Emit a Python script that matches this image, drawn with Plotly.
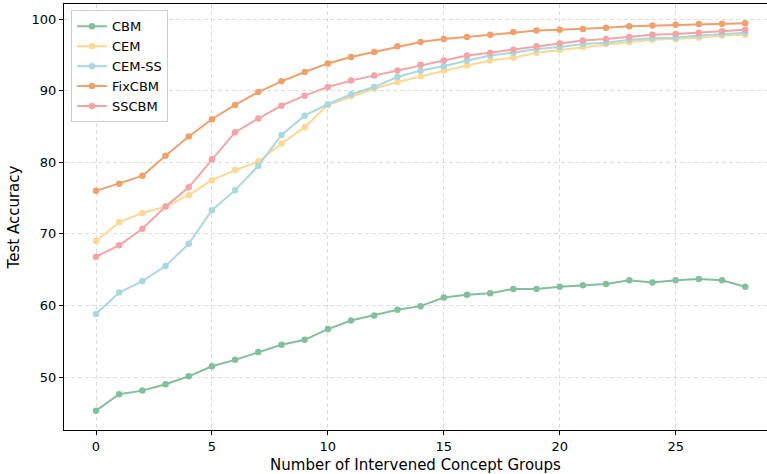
import plotly.graph_objects as go

x = list(range(29))

cbm = [45.3, 47.6, 48.1, 49.0, 50.1, 51.5, 52.4, 53.5, 54.5, 55.2, 56.7, 57.9, 58.6, 59.4, 59.9,
       61.1, 61.5, 61.7, 62.3, 62.3, 62.6, 62.8, 63.0, 63.5, 63.2, 63.5, 63.7, 63.5, 62.6]
cem = [69.0, 71.6, 72.9, 73.8, 75.4, 77.5, 78.9, 80.1, 82.6, 84.9, 88.0, 89.2, 90.3, 91.2, 92.0,
       92.8, 93.5, 94.2, 94.6, 95.3, 95.7, 96.1, 96.5, 96.8, 97.1, 97.2, 97.4, 97.7, 97.8]
cem_ss = [58.8, 61.8, 63.4, 65.5, 68.6, 73.3, 76.1, 79.5, 83.8, 86.5, 88.1, 89.5, 90.5, 91.9, 92.8,
          93.4, 94.2, 94.9, 95.3, 95.8, 96.1, 96.5, 96.7, 97.1, 97.3, 97.4, 97.7, 97.9, 98.1]
fixcbm = [76.0, 77.0, 78.1, 80.9, 83.6, 86.0, 88.0, 89.8, 91.3, 92.6, 93.8, 94.7, 95.4, 96.2, 96.8,
          97.2, 97.5, 97.8, 98.2, 98.4, 98.5, 98.6, 98.8, 99.0, 99.1, 99.2, 99.3, 99.35, 99.4]
sscbm = [66.8, 68.4, 70.7, 73.8, 76.5, 80.4, 84.2, 86.1, 87.9, 89.3, 90.5, 91.4, 92.1, 92.8, 93.6,
         94.2, 94.9, 95.3, 95.7, 96.2, 96.6, 97.0, 97.2, 97.5, 97.8, 97.9, 98.1, 98.3, 98.5]

series = [
    ("CBM", cbm, "#82c09b"),
    ("CEM", cem, "#fcd893"),
    ("CEM-SS", cem_ss, "#a9d8e0"),
    ("FixCBM", fixcbm, "#f0a06b"),
    ("SSCBM", sscbm, "#f4a4a4"),
]

fig = go.Figure()
for name, vals, col in series:
    fig.add_trace(go.Scatter(
        x=x, y=vals, name=name, mode="lines+markers",
        line=dict(color=col, width=2),
        marker=dict(color=col, size=6.5),
    ))

axis_common = dict(
    showline=True, linecolor="black", linewidth=1, mirror=True,
    ticks="outside", ticklen=4, tickcolor="black",
    showgrid=True, gridcolor="#dcdcdc", griddash="4px,3px", gridwidth=1,
    zeroline=False,
    tickfont=dict(family="DejaVu Sans", size=13, color="black"),
)

fig.update_layout(
    width=767, height=474,
    margin=dict(l=64, r=0, t=4, b=44, autoexpand=False),
    paper_bgcolor="white", plot_bgcolor="white",
    font=dict(family="DejaVu Sans", size=13, color="black"),
    xaxis=dict(range=[-1.38, 28.94], tickvals=[0, 5, 10, 15, 20, 25],
               title=dict(text="Number of Intervened Concept Groups", standoff=6,
                          font=dict(size=15)),
               **axis_common),
    yaxis=dict(range=[42.6, 102.1], tickvals=[50, 60, 70, 80, 90, 100],
               title=dict(text="Test Accuracy", standoff=8, font=dict(size=15)),
               **axis_common),
    legend=dict(x=0.01, y=0.985, xanchor="left", yanchor="top",
                bgcolor="rgba(255,255,255,0.85)", bordercolor="#cccccc", borderwidth=1,
                font=dict(size=13), tracegroupgap=0, itemwidth=30),
    showlegend=True,
)

fig.write_html("out.html", config={"displayModeBar": False},
               post_script="document.body.style.margin='0';document.body.style.padding='0';")
